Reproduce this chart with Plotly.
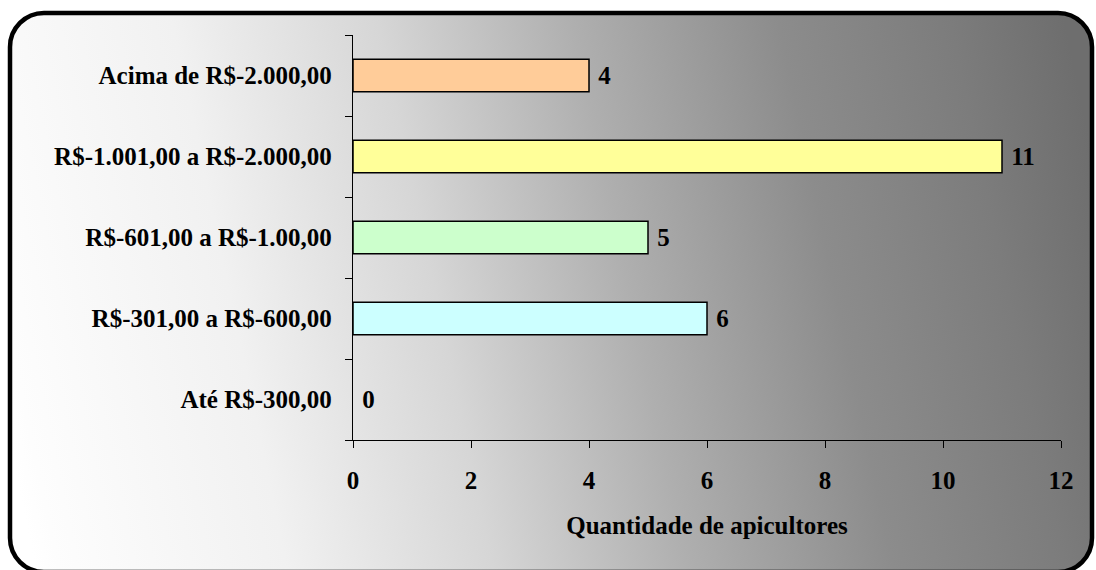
import base64

import plotly.graph_objects as go

# faixas de renda (de baixo para cima) e quantidade de apicultores
categorias = [
    "Até R$-300,00",
    "R$-301,00 a R$-600,00",
    "R$-601,00 a R$-1.00,00",
    "R$-1.001,00 a R$-2.000,00",
    "Acima de R$-2.000,00",
]
quantidades = [0, 6, 5, 11, 4]
cores = ["#99CCFF", "#CCFFFF", "#CCFFCC", "#FFFF99", "#FFCC99"]
x_ticks = [0, 2, 4, 6, 8, 10, 12]

W, H = 1096, 570
FS = 25


def px_x(x):
    return x / W


def px_y(y):
    return 1 - y / H


fig = go.Figure(
    go.Bar(
        x=quantidades,
        y=categorias,
        orientation="h",
        marker=dict(color=cores,
                    line=dict(color="black",
                              width=[0 if q == 0 else 1.5 for q in quantidades])),
        text=quantidades,
        texttemplate="\u00a0%{x}",
        textposition="outside",
        cliponaxis=False,
        textfont=dict(size=FS, color="black"),
        hoverinfo="skip",
    )
)

# chart area: rounded frame with a white -> grey gradient (slightly diagonal)
grad = [(0.0, 255), (0.02, 253), (0.22, 241), (0.40, 214), (0.57, 175),
        (0.75, 140), (0.90, 124), (1.0, 110)]
stops = "".join(
    f"<stop offset='{o}' stop-color='rgb({v},{v},{v})'/>" for o, v in grad
)
svg = (
    f"<svg xmlns='http://www.w3.org/2000/svg' width='{W}' height='{H}' "
    f"viewBox='0 0 {W} {H}' preserveAspectRatio='none'>"
    "<defs><linearGradient id='g' gradientUnits='userSpaceOnUse' "
    "x1='0' y1='400' x2='1096' y2='170'>" + stops + "</linearGradient></defs>"
    "<rect x='10' y='13' width='1082' height='559' rx='34' ry='34' "
    "fill='url(#g)' stroke='black' stroke-width='4.5'/></svg>"
)
bg_src = "data:image/svg+xml;base64," + base64.b64encode(svg.encode()).decode()

fig.update_layout(
    width=W,
    height=H,
    margin=dict(l=0, r=0, t=0, b=0, autoexpand=False),
    paper_bgcolor="white",
    plot_bgcolor="rgba(0,0,0,0)",
    font=dict(family="Liberation Serif, Times New Roman, serif", size=FS,
              color="black", weight="bold"),
    bargap=0.6,
    showlegend=False,
    images=[dict(source=bg_src, xref="paper", yref="paper", x=0, y=1,
                 sizex=1, sizey=1, xanchor="left", yanchor="top",
                 sizing="stretch", layer="below")],
    xaxis=dict(
        domain=[px_x(353), px_x(1061)],
        range=[0, 12],
        tickvals=x_ticks,
        automargin=False,
        showgrid=False,
        zeroline=False,
        showline=True,
        linecolor="black",
        linewidth=1.3,
        ticks="outside",
        ticklen=7,
        tickcolor="black",
        ticklabelstandoff=11,
        title=dict(text="Quantidade de apicultores", standoff=23,
                   font=dict(size=FS)),
    ),
    yaxis=dict(
        domain=[px_y(440), px_y(35)],
        categoryorder="array",
        categoryarray=categorias,
        automargin=False,
        showgrid=False,
        showline=True,
        linecolor="black",
        linewidth=1.3,
        ticks="outside",
        tickson="boundaries",
        ticklen=7,
        tickcolor="black",
        ticklabelstandoff=15,
    ),
)

fig.write_html(
    "out.html",
    config={"displayModeBar": False},
    post_script="document.body.style.margin='0';document.body.style.overflow='hidden';",
)
